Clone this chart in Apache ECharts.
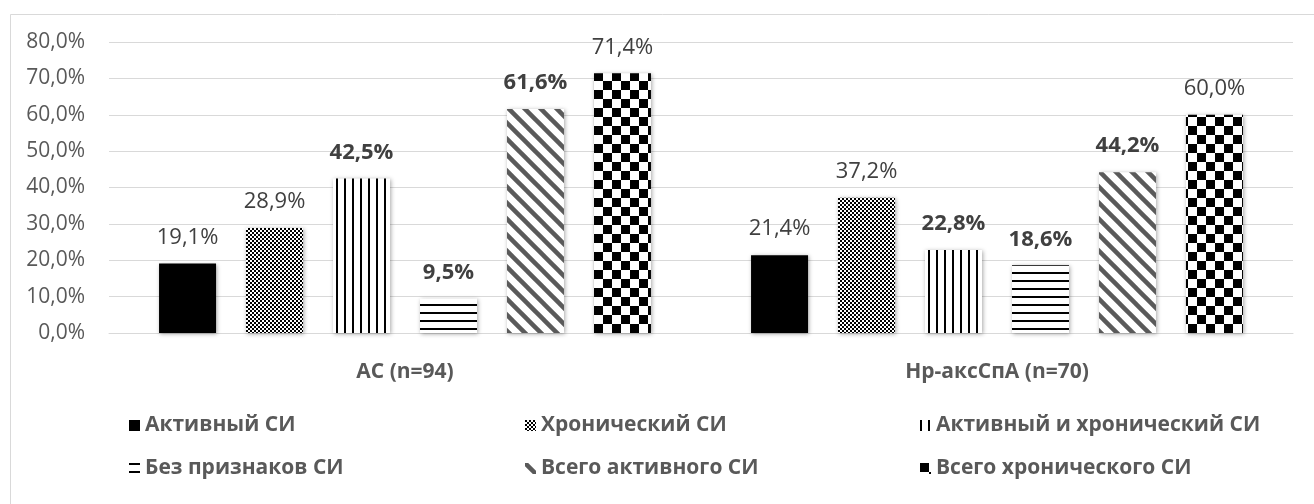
<!DOCTYPE html>
<html>
<head>
<meta charset="utf-8">
<script src="https://cdn.jsdelivr.net/npm/echarts@6/dist/echarts.min.js"></script>
<style>
  html, body { margin: 0; padding: 0; background: #fff; }
  #chart { width: 1314px; height: 504px; }
</style>
</head>
<body>
<div id="chart"></div>
<script>
// Groups and their share of patients per category of sacroiliitis (СИ)
const categories = ['АС (n=94)', 'Нр-аксСпА (n=70)'];
const seriesNames = [
  'Активный СИ',
  'Хронический СИ',
  'Активный и хронический СИ',
  'Без признаков СИ',
  'Всего активного СИ',
  'Всего хронического СИ'
];
const activeSI        = [19.1, 21.4];
const chronicSI       = [28.9, 37.2];
const activeChronicSI = [42.5, 22.8];
const noSignsSI       = [9.5, 18.6];
const totalActiveSI   = [61.6, 44.2];
const totalChronicSI  = [71.4, 60.0];
const seriesValues = [activeSI, chronicSI, activeChronicSI, noSignsSI, totalActiveSI, totalChronicSI];
const boldLabelSeries = [false, false, true, true, true, false];
const yMin = 0, yMax = 80, yStep = 10;

// ---- fill patterns ----
function makeCanvas(w, h, draw) {
  const c = document.createElement('canvas');
  c.width = w; c.height = h;
  const ctx = c.getContext('2d');
  ctx.fillStyle = '#fff';
  ctx.fillRect(0, 0, w, h);
  draw(ctx, w, h);
  return c;
}
const fineChecker = makeCanvas(4, 4, (ctx) => {
  ctx.fillStyle = '#000';
  ctx.fillRect(0, 0, 2, 2);
  ctx.fillRect(2, 2, 2, 2);
});
const vertLines = makeCanvas(8, 8, (ctx) => {
  ctx.fillStyle = '#000';
  ctx.fillRect(0, 0, 2, 8);
});
const horizLines = makeCanvas(8, 8, (ctx) => {
  ctx.fillStyle = '#000';
  ctx.fillRect(0, 0, 8, 2);
});
const diagLines = makeCanvas(16, 16, (ctx, w, h) => {
  ctx.strokeStyle = '#5a5a5a';
  ctx.lineWidth = 4.5;
  for (let k = -1; k <= 1; k++) {
    ctx.beginPath();
    ctx.moveTo(k * w - 2, -2);
    ctx.lineTo(k * w + w + 2, h + 2);
    ctx.stroke();
  }
});
const bigChecker = makeCanvas(18, 18, (ctx) => {
  ctx.fillStyle = '#000';
  ctx.fillRect(0, 0, 9, 9);
  ctx.fillRect(9, 9, 9, 9);
});
const fills = [
  '#000000',
  { image: fineChecker, repeat: 'repeat' },
  { image: vertLines, repeat: 'repeat' },
  { image: horizLines, repeat: 'repeat' },
  { image: diagLines, repeat: 'repeat' },
  { image: bigChecker, repeat: 'repeat' }
];

const fmt = (v) => Number(v).toFixed(1).replace('.', ',') + '%';
const FONT = '"Open Sans", sans-serif';

const series = seriesNames.map((name, i) => ({
  name: name,
  type: 'bar',
  data: seriesValues[i],
  barWidth: 57,
  barGap: '52.6%',
  itemStyle: {
    color: fills[i],
    shadowColor: 'rgba(0,0,0,0.35)',
    shadowBlur: 4,
    shadowOffsetX: 1,
    shadowOffsetY: 1
  },
  label: {
    show: true,
    position: 'top',
    distance: 15,
    formatter: (p) => fmt(p.value),
    fontFamily: FONT,
    fontSize: 22,
    fontWeight: boldLabelSeries[i] ? 'bold' : 'normal',
    color: '#404040'
  },
  emphasis: { disabled: true }
}));

// Legend: three equal columns, two rows
const legendCols = [129, 525, 920];
const legendRows = [415, 458];
const legends = seriesNames.map((name, i) => ({
  data: [name],
  left: legendCols[i % 3],
  top: legendRows[Math.floor(i / 3)],
  icon: 'rect',
  itemWidth: 11,
  itemHeight: 11,
  itemGap: 0,
  padding: 0,
  selectedMode: false,
  textStyle: { fontFamily: FONT, fontSize: 21, fontWeight: 'bold', color: '#595959' }
}));

const chart = echarts.init(document.getElementById('chart'), null, { renderer: 'canvas' });
chart.setOption({
  animation: false,
  backgroundColor: '#ffffff',
  graphic: [{
    type: 'rect',
    left: 8, top: 12,
    shape: { width: 1400, height: 600 },
    style: { fill: 'none', stroke: '#d9d9d9', lineWidth: 1 },
    silent: true,
    z: -10
  }],
  grid: { left: 109, right: 21, top: 42, bottom: 171, containLabel: false },
  legend: legends,
  xAxis: {
    type: 'category',
    data: categories,
    axisLine: { show: true, lineStyle: { color: '#d9d9d9', width: 1 } },
    axisTick: { show: false },
    axisLabel: {
      margin: 29,
      fontFamily: FONT, fontSize: 21, fontWeight: 'bold', color: '#595959'
    }
  },
  yAxis: {
    type: 'value',
    min: yMin, max: yMax, interval: yStep,
    axisLine: { show: false },
    axisTick: { show: false },
    splitLine: { lineStyle: { color: '#d9d9d9', width: 1 } },
    axisLabel: {
      margin: 24,
      formatter: fmt,
      fontFamily: FONT, fontSize: 21, color: '#595959'
    }
  },
  series: series
});
</script>
</body>
</html>
